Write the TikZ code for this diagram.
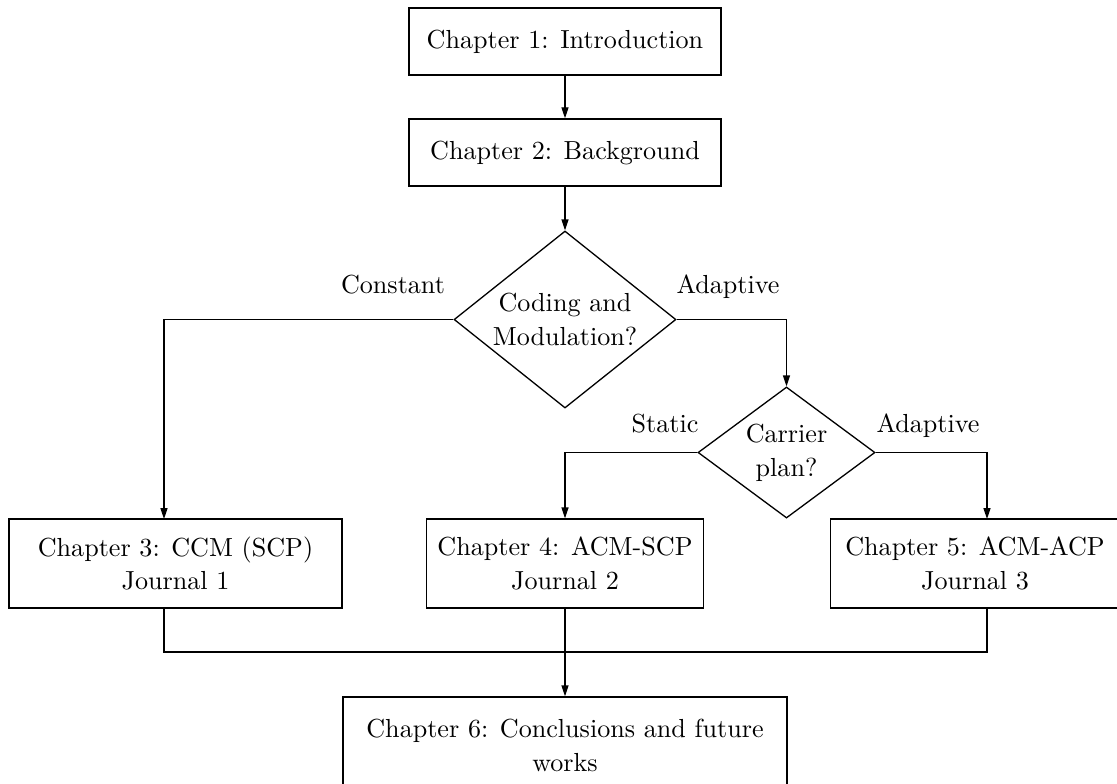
\documentclass[tikz,border=0pt]{standalone}
\usetikzlibrary{shapes.geometric,arrows.meta}
\begin{document}
\begin{tikzpicture}[x=0.383pt,y=-0.383pt,line width=0.5pt,
  box/.style={draw,align=center,inner sep=0pt,minimum height=25.7pt},
  jbox/.style={box,minimum height=34.1pt},
  decision/.style={draw,diamond,inner sep=0pt,align=center},
  arr/.style={-{Triangle[length=4.2pt,width=2.7pt]}},
  lbl/.style={anchor=base,inner sep=0pt}]
\useasboundingbox (0,0) rectangle (1117,783);
\clip (0,0) rectangle (1117,783);

% chapters and decisions
\node[box,minimum width=119.5pt] (b1) at (565,41.5) {Chapter 1: Introduction};
\node[box,minimum width=119.5pt] (b2) at (565,152.5) {Chapter 2: Background};
\node[decision,aspect=1.254,minimum width=85pt,minimum height=67.8pt] (d1) at (565,319.5) {Coding and\\[1pt]Modulation?};
\node[decision,aspect=1.35,minimum width=67.8pt,minimum height=50.2pt] (d2) at (786.5,452.5) {Carrier\\[1pt]plan?};
\node[jbox,minimum width=127.5pt] (b3) at (175.5,563.5) {Chapter 3: CCM (SCP)\\[1pt]Journal 1};
\node[jbox,minimum width=106.1pt] (b4) at (565,563.5) {Chapter 4: ACM-SCP\\[1pt]Journal 2};
\node[jbox,minimum width=110.5pt] (b5) at (975,563.5) {Chapter 5: ACM-ACP\\[1pt]Journal 3};
\node[box,minimum width=170pt,minimum height=36.8pt] (b6) at (565,745) {Chapter 6: Conclusions and future\\[1pt]works};

% branch labels
\node[lbl] (lc) at (393,293) {Constant};
\node[lbl] (la) at (728,293) {Adaptive};
\node[lbl] (ls) at (665,432) {Static};
\node[lbl] (la2) at (928,432) {Adaptive};

% entry points on the journal boxes and the joining line
\coordinate (in3) at (164,519);
\coordinate (in5) at (987,519);
\coordinate (bus) at (565,652);

% connectors
\draw[arr] (b1) -- (b2);
\draw[arr] (b2) -- (d1);
\draw[arr] (d1.west) -| (in3);
\draw[arr] (d1.east) -| (d2.north);
\draw[arr] (d2.west) -| (b4.north);
\draw[arr] (d2.east) -| (in5);
\draw (b3.south -| in3) |- (bus) -| (b5.south -| in5);
\draw[arr] (b4.south) -- (b6.north);
\end{tikzpicture}
\end{document}
